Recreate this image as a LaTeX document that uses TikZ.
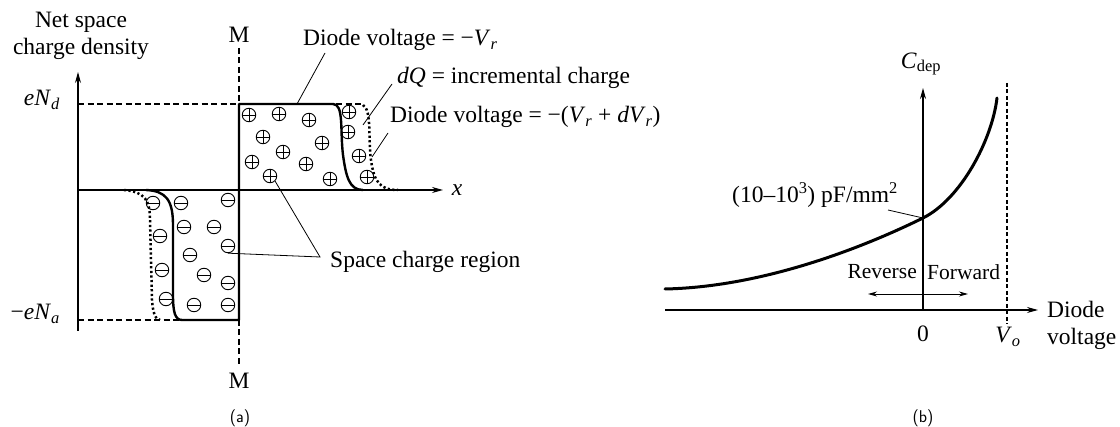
\documentclass[tikz,border=0pt]{standalone}
\usepackage{fontspec}
\setmainfont{Liberation Serif}
\usetikzlibrary{arrows.meta}
\tikzset{
  axis/.style={line width=1.3pt,-{Stealth[length=11pt,width=6pt]}},
  solidblock/.style={line width=2.4pt,line join=round},
  dotblock/.style={line width=2.5pt,dash pattern=on 2.2pt off 2.4pt},
  refdashed/.style={line width=1.1pt,dash pattern=on 6pt off 3.5pt},
  leader/.style={line width=0.8pt},
  lbl/.style={inner sep=0pt},
  chg/.style={circle,draw,minimum size=13.5pt,inner sep=0pt,line width=0.9pt},
  plus/.style={chg,path picture={\draw[line width=0.9pt]
     (path picture bounding box.north)--(path picture bounding box.south)
     (path picture bounding box.west)--(path picture bounding box.east);}},
  minus/.style={chg,path picture={\draw[line width=0.9pt]
     (path picture bounding box.west)--(path picture bounding box.east);}},
}
\begin{document}
\begin{tikzpicture}[x=1pt,y=-1pt,font=\fontsize{23.5}{27}\selectfont]
\useasboundingbox (0,0) rectangle (1120,427);

% ---------------- panel (a) ----------------
\coordinate (yb) at (78,331);
\coordinate (yt) at (78,72);
\coordinate (xo) at (78,190);
\coordinate (xe) at (443,190);
\draw[axis] (yb) -- (yt);
\draw[axis] (xo) -- (xe);
\node[lbl] (xl) at (457,190) {\textit{x}};

\node[lbl,align=center] (ylab) at (81,36) {Net space\\charge density};
\node[lbl,anchor=east] (end) at (60,100) {\textit{eN}\textsubscript{\textit{d}}};
\node[lbl,anchor=east] (ena) at (60,314) {\textminus\textit{eN}\textsubscript{\textit{a}}};

% dashed levels
\coordinate (d1) at (78,104);
\coordinate (d2) at (239,104);
\coordinate (d3) at (336,104);
\coordinate (d4) at (363,104);
\coordinate (a1) at (78,320);
\coordinate (a2) at (182,320);
\draw[refdashed] (d1) -- (d2);
\draw[refdashed] (d3) -- (d4);
\draw[refdashed] (a1) -- (a2);

% M line
\node[lbl] (mt) at (239,35) {M};
\node[lbl] (mb) at (239,381) {M};
\coordinate (m1) at (239,48);
\coordinate (m2) at (239,104);
\coordinate (m3) at (239,320);
\coordinate (m4) at (239,367);
\draw[refdashed] (m1) -- (m2);
\draw[refdashed] (m3) -- (m4);

% solid space charge profile
\draw[solidblock] (363,190) .. controls (349,190) and (346,176) .. (343,155)
  .. controls (340,130) and (344,104) .. (333,104) -- (239,104) -- (239,320)
  -- (182,320) .. controls (175,320) and (173,312) .. (173,295) -- (173,225)
  .. controls (173,200) and (166,191) .. (146,190);
% dotted (incremented) profile
\draw[dotblock] (363,105) .. controls (372,110) and (368,140) .. (371,160)
  .. controls (374,182) and (380,190) .. (398,190);
\draw[dotblock] (124,190) .. controls (145,192) and (150,200) .. (150,220)
  -- (152,300) .. controls (153,313) and (155,319) .. (160,320);

% positive charges
\node[plus] (p1) at (249,115) {};
\node[plus] (p2) at (279,114) {};
\node[plus] (p3) at (309,120) {};
\node[plus] (p4) at (263,137) {};
\node[plus] (p5) at (322,143) {};
\node[plus] (p6) at (283,152) {};
\node[plus] (p7) at (252,162) {};
\node[plus] (p8) at (306,164) {};
\node[plus] (p9) at (270,176) {};
\node[plus] (p10) at (330,179) {};
\node[plus] (p11) at (349,112) {};
\node[plus] (p12) at (348,132) {};
\node[plus] (p13) at (359,156) {};
\node[plus] (p14) at (367,177) {};

% negative charges
\node[minus] (n1) at (153,203) {};
\node[minus] (n2) at (181,203) {};
\node[minus] (n3) at (228,200) {};
\node[minus] (n4) at (184,227) {};
\node[minus] (n5) at (214,227) {};
\node[minus] (n6) at (160,236) {};
\node[minus] (n7) at (228,246) {};
\node[minus] (n8) at (190,255) {};
\node[minus] (n9) at (162,270) {};
\node[minus] (n10) at (204,275) {};
\node[minus] (n11) at (228,283) {};
\node[minus] (n12) at (166,299) {};
\node[minus] (n13) at (194,305) {};
\node[minus] (n14) at (228,305) {};

% labels with leaders
\node[lbl,anchor=west] (t1) at (303,40) {Diode voltage = \textminus\textit{V}\textsubscript{\textit{r}}};
\node[lbl,anchor=west] (t2) at (397,78) {\textit{dQ} = incremental charge};
\node[lbl,anchor=west] (t3) at (390,117) {Diode voltage = \textminus(\textit{V}\textsubscript{\textit{r}} + \textit{dV}\textsubscript{\textit{r}})};
\node[lbl,anchor=west] (t4) at (330,262) {Space charge region};
\coordinate (c1a) at (325,53);
\coordinate (c1b) at (297,104);
\coordinate (c2a) at (392,84);
\coordinate (c2b) at (363,125);
\coordinate (c3a) at (388,133);
\coordinate (c3b) at (372,157);
\coordinate (c4) at (320,257);
\draw[leader] (c1a) -- (c1b);
\draw[leader] (c2a) -- (c2b);
\draw[leader] (c3a) -- (c3b);
\draw[leader] (p9.south east) -- (c4) -- (n7.south);

\node[lbl,font=\sffamily\fontsize{17}{20}\selectfont] (capa) at (240,418) {(a)};

% ---------------- panel (b) ----------------
\coordinate (bx0) at (665,310);
\coordinate (bx1) at (1038,310);
\coordinate (by0) at (923,310);
\coordinate (by1) at (923,88);
\draw[axis] (bx0) -- (bx1);
\draw[axis] (by0) -- (by1);
\node[lbl] (cdep) at (921,64) {\textit{C}\textsubscript{dep}};
\coordinate (vt) at (1007,83);
\coordinate (vb) at (1007,324);
\draw[line width=1.1pt,dash pattern=on 4pt off 2.5pt] (vt) -- (vb);
\coordinate (cs) at (665,289);
\coordinate (cap) at (923,218);
\coordinate (ce) at (997,98);
\draw[line width=3pt,line cap=round] (cs) .. controls (760,287) and (858,250) .. (cap)
  .. controls (961,199) and (992,140) .. (ce);
\coordinate (capl) at (888,210);
\node[lbl] (val) at (815,195) {(10\textendash10\textsuperscript{3}) pF/mm\textsuperscript{2}};
\draw[leader] (capl) -- (cap);
\node[lbl,anchor=east,font=\fontsize{21.5}{25}\selectfont] (rev) at (917,272) {Reverse};
\node[lbl,anchor=west,font=\fontsize{21.5}{25}\selectfont] (fwd) at (927,272) {Forward};
\coordinate (ar1) at (868,294);
\coordinate (ar2) at (968,294);
\draw[line width=0.9pt,{Stealth[length=9pt,width=5pt]}-{Stealth[length=9pt,width=5pt]}] (ar1) -- (ar2);
\node[lbl] (zero) at (923,334) {0};
\node[lbl] (vo) at (1008,337) {\textit{V}\textsubscript{\textit{o}}};
\node[lbl,anchor=west,align=left] (dv) at (1047,325) {Diode\\voltage};
\node[lbl,font=\sffamily\fontsize{17}{20}\selectfont] (capb) at (923,418) {(b)};
\end{tikzpicture}
\end{document}
